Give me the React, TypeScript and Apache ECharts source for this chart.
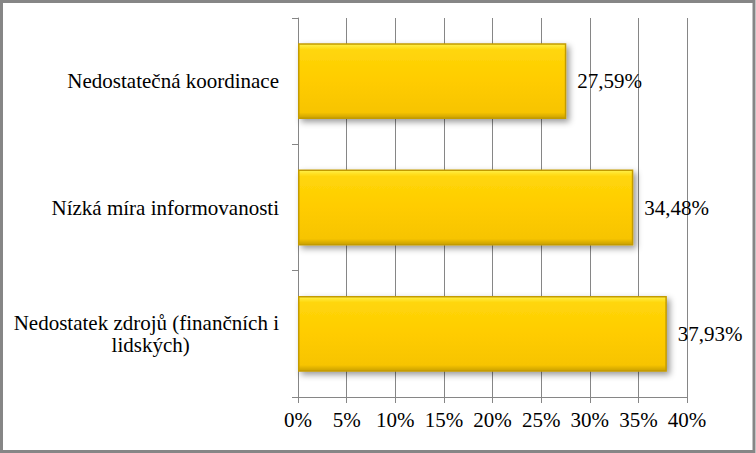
import React, { useEffect, useRef } from "react";
import * as echarts from "echarts";

const categories = [
  "Nedostatek zdrojů (finančních i\nlidských)",
  "Nízká míra informovanosti",
  "Nedostatečná koordinace",
];
const values = [37.93, 34.48, 27.59];
const xTicks = [0, 5, 10, 15, 20, 25, 30, 35, 40];

const FONT = "Liberation Serif";

export default function App() {
  const ref = useRef<HTMLDivElement>(null);
  useEffect(() => {
    const chart = echarts.init(ref.current!, null, { renderer: "svg" });
    chart.setOption({
      animation: false,
      backgroundColor: "#ffffff",
      textStyle: { fontFamily: FONT },
      grid: { left: 298, right: 69, top: 18, bottom: 56, containLabel: false },
      xAxis: {
        type: "value",
        min: xTicks[0],
        max: xTicks[xTicks.length - 1],
        interval: 5,
        axisLine: { show: true, lineStyle: { color: "#868686", width: 1 } },
        axisTick: { show: true, length: 6, lineStyle: { color: "#868686" } },
        splitLine: { show: true, lineStyle: { color: "#868686", width: 1 } },
        axisLabel: {
          formatter: (v: number) => v + "%",
          color: "#000",
          fontFamily: FONT,
          fontSize: 21,
          margin: 12,
        },
      },
      yAxis: {
        type: "category",
        data: categories,
        axisLine: { show: true, lineStyle: { color: "#868686", width: 1 } },
        axisTick: { show: true, length: 6, lineStyle: { color: "#868686" } },
        axisLabel: {
          color: "#000",
          fontFamily: FONT,
          fontSize: 21,
          margin: 19,
          lineHeight: 22,
          formatter: (v: string) => {
            const lines = v.split("\n");
            if (lines.length === 1) return v;
            return lines[0] + "\n" + lines[1] + "\u00A0".repeat(17);
          },
        },
      },
      series: [
        {
          type: "bar",
          data: values,
          barCategoryGap: "40%",
          itemStyle: {
            color: {
              type: "linear",
              x: 0,
              y: 0,
              x2: 0,
              y2: 1,
              colorStops: [
                { offset: 0, color: "#FFF04A" },
                { offset: 0.08, color: "#FFD60A" },
                { offset: 0.5, color: "#FFCC00" },
                { offset: 0.92, color: "#F7C400" },
                { offset: 1, color: "#C9A000" },
              ],
            },
            borderColor: "#C39B00",
            borderWidth: 1.5,
            shadowColor: "rgba(0,0,0,0.4)",
            shadowBlur: 6,
            shadowOffsetX: 3,
            shadowOffsetY: 3,
          },
          label: {
            show: true,
            position: "right",
            distance: 11,
            color: "#000",
            fontFamily: FONT,
            fontSize: 21,
            formatter: (p: any) => p.value.toFixed(2).replace(".", ",") + "%",
          },
        },
      ],
      graphic: [
        {
          type: "rect",
          silent: true,
          shape: { x: 1.5, y: 1.5, width: 752.5, height: 450 },
          style: { fill: "none", stroke: "#868686", lineWidth: 3 },
          z: 100,
        },
      ],
    });
    return () => chart.dispose();
  }, []);
  return (
    <div
      ref={ref}
      style={{ position: "fixed", left: 0, top: 0, width: 756, height: 453 }}
    />
  );
}
